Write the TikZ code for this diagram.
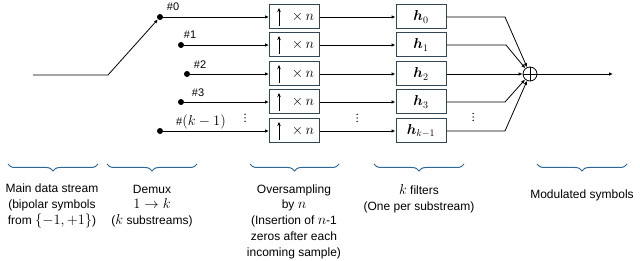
\documentclass[tikz,border=0pt]{standalone}
\usepackage{amsmath,bm}
\usepackage{fontspec}
\setmainfont{Liberation Sans}
\usetikzlibrary{arrows.meta,decorations.pathreplacing,calc}
\definecolor{boxc}{RGB}{50,70,85}
\definecolor{bracec}{RGB}{46,104,150}
\newcommand\mth[1]{{\fontsize{13.5}{15}\selectfont$#1$}}
\begin{document}
\begin{tikzpicture}[x=1pt,y=-1pt,
  box/.style={draw=boxc,line width=1pt,minimum width=50,minimum height=24,inner sep=0,fill=white,font=\fontsize{14}{16}\selectfont},
  dotn/.style={circle,fill=black,inner sep=0,minimum size=6},
  arr/.style={line width=0.8pt,-{Latex[length=4pt,width=3.5pt]}},
  tag/.style={font=\fontsize{11}{13}\selectfont,inner sep=0},
  brc/.style={draw=bracec,line width=1pt,decorate,decoration={brace,mirror,amplitude=7}},
  desc/.style={align=center,font=\fontsize{12}{15.8}\selectfont,inner sep=0}]
\useasboundingbox (0,0) rectangle (640,261);

% input and demux switch
\coordinate (in) at (33,75);
\coordinate (sw) at (108,75);
\node[dotn] (d0) at (160,17) {};
\node[dotn] (d1) at (181,45) {};
\node[dotn] (d2) at (187,74) {};
\node[dotn] (d3) at (181,102) {};
\node[dotn] (d4) at (160,131) {};
\node[tag] (l0) at (173,7) {\#0};
\node[tag] (l1) at (190,35) {\#1};
\node[tag] (l2) at (200,65) {\#2};
\node[tag] (l3) at (198,93) {\#3};
\node[tag] (l4) at (201,122) {\#\mth{(k-1)}};
\draw[arr] (in) -- (sw) -- (d0);

% upsampler boxes
\foreach \i/\y in {0/17,1/45,2/74,3/102,4/131}{
  \node[box] (u\i) at (294.5,\y) {\hspace{17pt}$\times\, n$};
  \draw[line width=0.9pt,-{Stealth[length=4pt,width=3.5pt]}] ($(u\i.west)+(10,9)$) -- ($(u\i.west)+(10,-9)$);
  \draw[arr] (d\i) -- (u\i);
}
% filter boxes
\node[box] (h0) at (421,17) {$\bm{h}_0$};
\node[box] (h1) at (421,45) {$\bm{h}_1$};
\node[box] (h2) at (421,74) {$\bm{h}_2$};
\node[box] (h3) at (421,102) {$\bm{h}_3$};
\node[box] (h4) at (421,131) {$\bm{h}_{k-1}$};
\foreach \i in {0,...,4}{ \draw[arr] (u\i) -- (h\i); }

% vertical ellipses
\foreach \x/\y in {245/118,357/118,473/117}{
  \foreach \d in {-3.5,0,3.5}{ \fill (\x,\y+\d) circle (0.75); }
}

% summation
\node[circle,draw,line width=0.8pt,minimum size=14,inner sep=0] (sum) at (530,74) {};
\draw[line width=0.8pt] (sum.north) -- (sum.south) (sum.west) -- (sum.east);
\coordinate (b0) at (505,17);
\coordinate (b1) at (506,45);
\coordinate (b3) at (505,102);
\coordinate (b4) at (505,131);
\draw[arr] (h0.east) -- (b0) -- (sum);
\draw[arr] (h1.east) -- (b1) -- (sum);
\draw[arr] (h2) -- (sum);
\draw[arr] (h3.east) -- (b3) -- (sum);
\draw[arr] (h4.east) -- (b4) -- (sum);
\coordinate (out) at (613,74);
\draw[arr] (sum) -- (out);

% braces
\draw[brc] (8,164) -- (98,164);
\draw[brc] (107,164) -- (197,164);
\draw[brc] (250,164) -- (339,164);
\draw[brc] (374,164) -- (464,164);
\draw[brc] (537,164) -- (627,164);

% descriptions
\node[desc] (t1) at (52,206) {Main data stream\\(bipolar symbols\\from \mth{\{-1,+1\}})};
\node[desc] (t2) at (152,206) {Demux\\\mth{1\rightarrow k}\\(\mth{k} substreams)};
\node[desc] (t3) at (294,221.5) {Oversampling\\by \mth{n}\\(Insertion of \mth{n}-1\\zeros after each\\incoming sample)};
\node[desc] (t4) at (419,198.5) {\mth{k} filters\\(One per substream)};
\node[desc] (t5) at (582,195) {Modulated symbols};
\end{tikzpicture}
\end{document}
